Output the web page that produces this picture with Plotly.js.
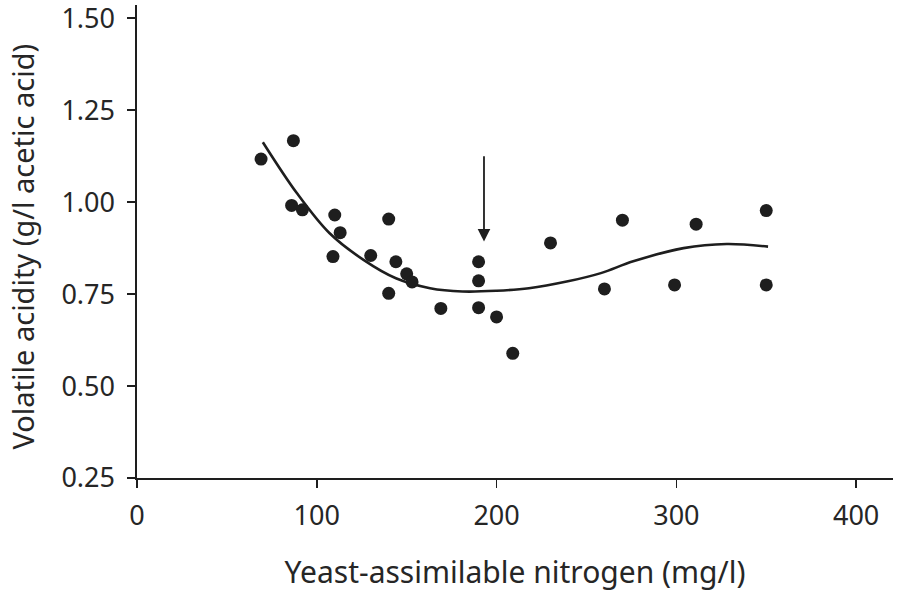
<!DOCTYPE html>
<html>
<head>
<meta charset="utf-8">
<script src="https://cdn.plot.ly/plotly-3.0.1.min.js"></script>
<style>html,body{margin:0;padding:0;background:#fff;}#chart{width:908px;height:592px;}</style>
</head>
<body>
<div id="chart"></div>
<script>
// Observed data points
var nitrogen = [69, 87, 86, 92, 110, 113, 109, 140, 130, 144, 150, 153, 140, 169, 190, 190, 190, 200, 209, 230, 270, 311, 350, 260, 299, 350];
var acidity  = [1.117, 1.167, 0.991, 0.979, 0.965, 0.917, 0.852, 0.954, 0.855, 0.838, 0.805, 0.783, 0.752, 0.711, 0.838, 0.786, 0.713, 0.688, 0.589, 0.889, 0.951, 0.940, 0.977, 0.764, 0.775, 0.775];

// Fitted curve
var curveX = [70, 89, 107, 126, 144, 163, 181, 200, 218, 239, 258, 276, 304, 328, 351];
var curveY = [1.163, 1.024, 0.916, 0.843, 0.793, 0.766, 0.757, 0.759, 0.766, 0.784, 0.807, 0.839, 0.875, 0.886, 0.879];

// Arrow marker position
var arrowX = 193, arrowTop = 1.129, arrowTip = 0.893;

var xTicks = [0, 100, 200, 300, 400];
var yTicks = [0.25, 0.50, 0.75, 1.00, 1.25, 1.50];
var yTickText = ['0.25', '0.50', '0.75', '1.00', '1.25', '1.50'];

var xTitle = 'Yeast-assimilable nitrogen (mg/l)';
var yTitle = 'Volatile acidity (g/l acetic acid)';

var ink = '#1e1e1e';
var txt = '#262626';
var font = 'Noto Sans, Open Sans, sans-serif';

var data = [
  {x: curveX, y: curveY, mode: 'lines', type: 'scatter', line: {color: ink, width: 2.6, shape: 'spline', smoothing: 1}, hoverinfo: 'skip'},
  {x: nitrogen, y: acidity, mode: 'markers', type: 'scatter', marker: {color: ink, size: 13}}
];

var layout = {
  width: 908, height: 592,
  margin: {l: 137, r: 15, t: 5, b: 113.5},
  showlegend: false,
  paper_bgcolor: '#fff', plot_bgcolor: '#fff',
  font: {family: font, color: txt, size: 27},
  xaxis: {
    range: [0, 420.5], tickvals: xTicks, ticktext: xTicks.map(String),
    showgrid: false, zeroline: false, showline: true, linecolor: ink, linewidth: 1.6,
    ticks: 'outside', ticklen: 8, tickwidth: 1.6, tickcolor: ink,
    ticklabelstandoff: 5, ticklabeloverflow: 'allow',
    tickfont: {size: 27, family: font, color: txt},
    title: {text: xTitle, font: {size: 30, family: font, color: txt}, standoff: 33}
  },
  yaxis: {
    range: [0.25, 1.536], tickvals: yTicks, ticktext: yTickText,
    showgrid: false, zeroline: false, showline: true, linecolor: ink, linewidth: 1.6,
    ticks: 'outside', ticklen: 8, tickwidth: 1.6, tickcolor: ink,
    ticklabelstandoff: 7, ticklabeloverflow: 'allow',
    tickfont: {size: 27, family: font, color: txt}
  },
  annotations: [{
    x: arrowX, y: arrowTip, ax: arrowX, ay: arrowTop, xref: 'x', yref: 'y', axref: 'x', ayref: 'y',
    text: '', showarrow: true, arrowhead: 2, arrowsize: 1.4, arrowwidth: 1.8, arrowcolor: ink
  }, {
    xref: 'paper', yref: 'paper', x: 0, y: 0.5, xanchor: 'center', yanchor: 'middle',
    xshift: -115, yshift: -5, textangle: -90, showarrow: false,
    text: yTitle, font: {size: 29, family: font, color: txt}
  }]
};

Plotly.newPlot('chart', data, layout, {displayModeBar: false, staticPlot: true});
</script>
</body>
</html>
